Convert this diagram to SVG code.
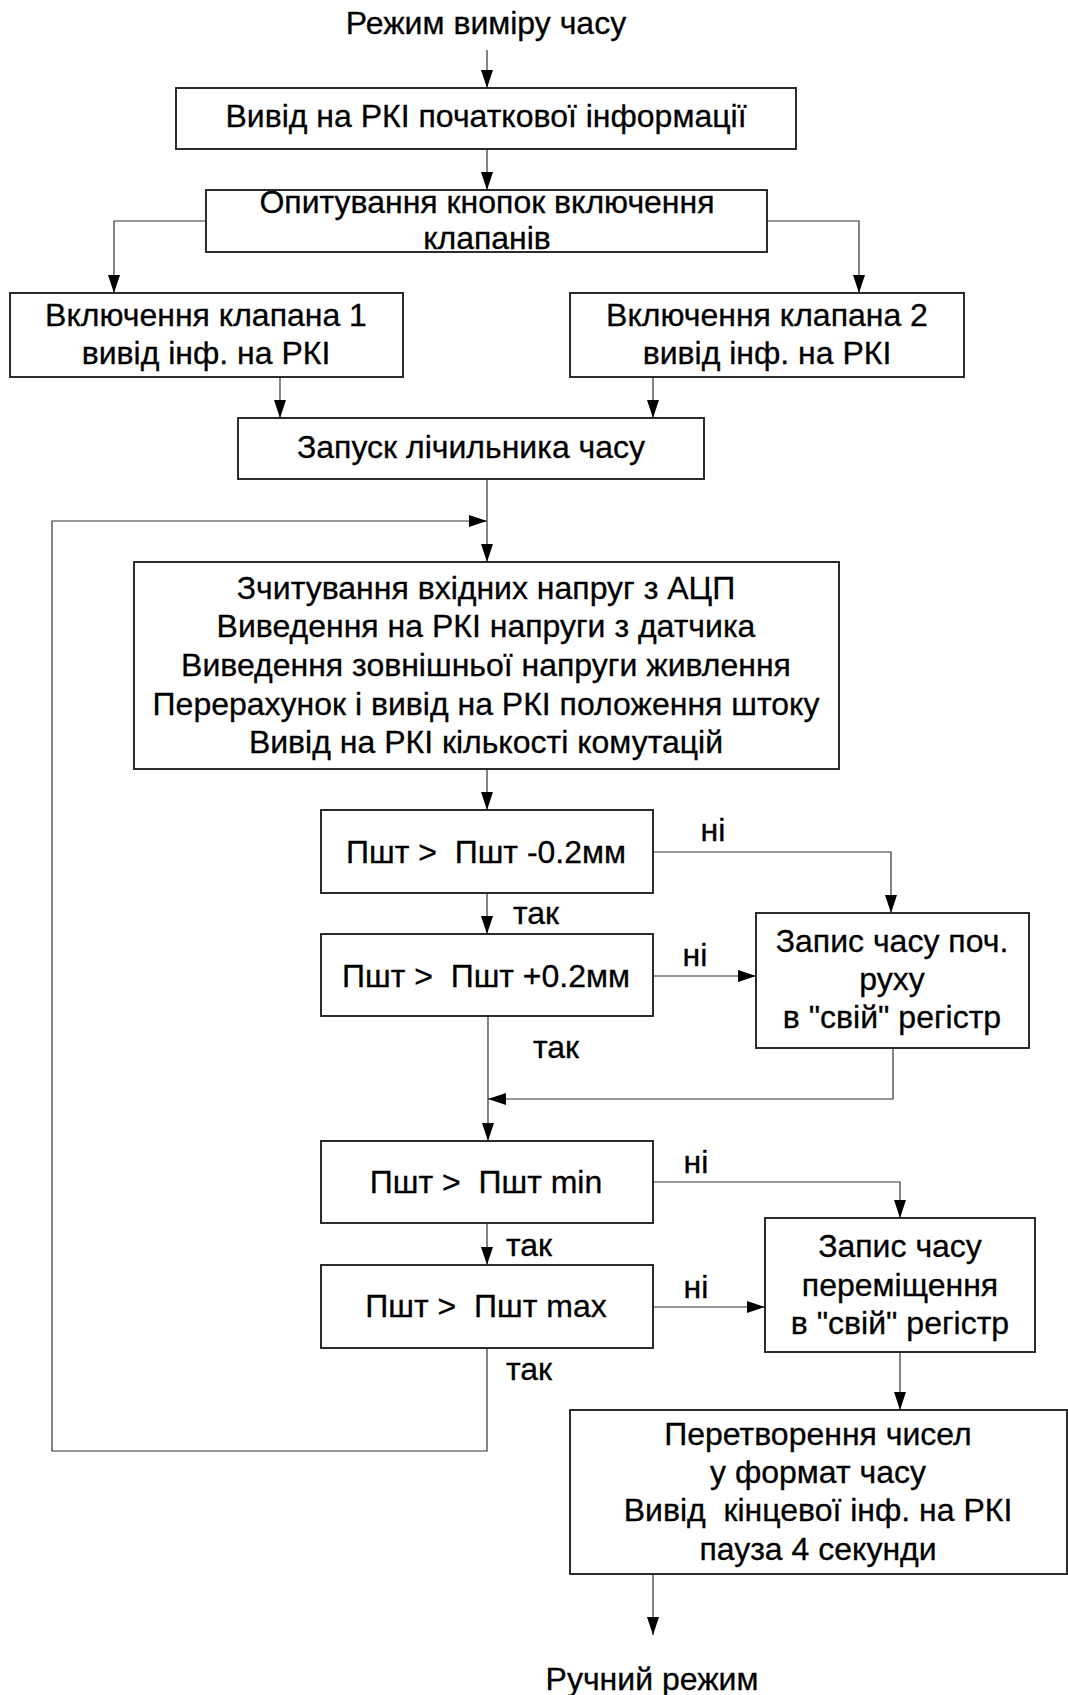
<svg xmlns="http://www.w3.org/2000/svg" width="1068" height="1695" viewBox="0 0 1068 1695">
  <style>
    .box { fill: #ffffff; stroke: #222222; stroke-width: 1.9; }
    .t { font-family: "Liberation Sans", Arial, sans-serif; font-size: 32px; fill: #000000; stroke: #000000; stroke-width: 0.3; text-anchor: middle; }
    .lbl { font-family: "Liberation Sans", Arial, sans-serif; font-size: 32px; fill: #000000; stroke: #000000; stroke-width: 0.3; text-anchor: middle; }
    .wire { fill: none; stroke: #333333; stroke-width: 1.2; }
    .arr { marker-end: url(#head); }
  </style>
  <defs>
    <marker id="head" markerUnits="userSpaceOnUse" markerWidth="18" markerHeight="12" refX="18" refY="6" orient="auto">
      <path d="M0,0 L18,6 L0,12 Z" fill="#000000"/>
    </marker>
  </defs>
  <rect width="1068" height="1695" fill="#ffffff"/>

  <!-- connectors -->
  <g id="connectors">
    <path class="wire arr" d="M487,50 V88"/>
    <path class="wire arr" d="M487,149 V190"/>
    <path class="wire arr" d="M206,221 H114 V293"/>
    <path class="wire arr" d="M767,221 H859 V293"/>
    <path class="wire arr" d="M280,377 V418"/>
    <path class="wire arr" d="M653,377 V418"/>
    <path class="wire arr" d="M487,479 V562"/>
    <path class="wire arr" d="M487,1348 V1451 H52 V521 H487"/>
    <path class="wire arr" d="M487,769 V810"/>
    <path class="wire arr" d="M653,852 H891 V913"/>
    <path class="wire arr" d="M487,893 V934"/>
    <path class="wire arr" d="M653,976 H756"/>
    <path class="wire arr" d="M488,1016 V1141"/>
    <path class="wire arr" d="M893,1048 V1099 H488"/>
    <path class="wire arr" d="M653,1182 H900 V1218"/>
    <path class="wire arr" d="M487,1223 V1265"/>
    <path class="wire arr" d="M653,1307 H765"/>
    <path class="wire arr" d="M900,1352 V1410"/>
    <path class="wire arr" d="M653,1574 V1635"/>
    <!-- branch labels -->
    <text class="lbl" x="713" y="841">ні</text>
    <text class="lbl" x="536" y="924">так</text>
    <text class="lbl" x="695" y="966">ні</text>
    <text class="lbl" x="556" y="1058">так</text>
    <text class="lbl" x="696" y="1173">ні</text>
    <text class="lbl" x="529" y="1256">так</text>
    <text class="lbl" x="696" y="1298">ні</text>
    <text class="lbl" x="529" y="1380">так</text>
  </g>

  <g id="start">
    <text class="t" x="486" y="34">Режим виміру часу</text>
  </g>

  <g id="init-display">
    <rect class="box" x="176" y="88" width="620" height="61"/>
    <text class="t" x="486" y="127">Вивід на РКІ початкової інформації</text>
  </g>

  <g id="poll-buttons">
    <rect class="box" x="206" y="190" width="561" height="62"/>
    <text class="t" x="487" y="213">Опитування кнопок включення</text>
    <text class="t" x="487" y="249">клапанів</text>
  </g>

  <g id="valve-1">
    <rect class="box" x="10" y="293" width="393" height="84"/>
    <text class="t" x="206" y="326">Включення клапана 1</text>
    <text class="t" x="206" y="364">вивід інф. на РКІ</text>
  </g>

  <g id="valve-2">
    <rect class="box" x="570" y="293" width="394" height="84"/>
    <text class="t" x="767" y="326">Включення клапана 2</text>
    <text class="t" x="767" y="364">вивід інф. на РКІ</text>
  </g>

  <g id="start-counter">
    <rect class="box" x="238" y="418" width="466" height="61"/>
    <text class="t" x="471" y="458">Запуск лічильника часу</text>
  </g>

  <g id="read-adc">
    <rect class="box" x="134" y="562" width="705" height="207"/>
    <text class="t" x="486" y="599">Зчитування вхідних напруг з АЦП</text>
    <text class="t" x="486" y="637">Виведення на РКІ напруги з датчика</text>
    <text class="t" x="486" y="676">Виведення зовнішньої напруги живлення</text>
    <text class="t" x="486" y="715">Перерахунок і вивід на РКІ положення штоку</text>
    <text class="t" x="486" y="753">Вивід на РКІ кількості комутацій</text>
  </g>

  <g id="check-minus">
    <rect class="box" x="321" y="810" width="332" height="83"/>
    <text class="t" x="486" y="863" xml:space="preserve">Пшт &gt;  Пшт -0.2мм</text>
  </g>

  <g id="check-plus">
    <rect class="box" x="321" y="934" width="332" height="82"/>
    <text class="t" x="486" y="987" xml:space="preserve">Пшт &gt;  Пшт +0.2мм</text>
  </g>

  <g id="store-start">
    <rect class="box" x="756" y="913" width="273" height="135"/>
    <text class="t" x="892" y="952">Запис часу поч.</text>
    <text class="t" x="892" y="990">руху</text>
    <text class="t" x="892" y="1028">в "свій" регістр</text>
  </g>

  <g id="check-min">
    <rect class="box" x="321" y="1141" width="332" height="82"/>
    <text class="t" x="486" y="1193" xml:space="preserve">Пшт &gt;  Пшт min</text>
  </g>

  <g id="check-max">
    <rect class="box" x="321" y="1265" width="332" height="83"/>
    <text class="t" x="486" y="1317" xml:space="preserve">Пшт &gt;  Пшт max</text>
  </g>

  <g id="store-move">
    <rect class="box" x="765" y="1218" width="270" height="134"/>
    <text class="t" x="900" y="1257">Запис часу</text>
    <text class="t" x="900" y="1296">переміщення</text>
    <text class="t" x="900" y="1334">в "свій" регістр</text>
  </g>

  <g id="convert-output">
    <rect class="box" x="570" y="1410" width="497" height="164"/>
    <text class="t" x="818" y="1445">Перетворення чисел</text>
    <text class="t" x="818" y="1483">у формат часу</text>
    <text class="t" x="818" y="1521" xml:space="preserve">Вивід  кінцевої інф. на РКІ</text>
    <text class="t" x="818" y="1560">пауза 4 секунди</text>
  </g>

  <g id="manual-mode">
    <text class="t" x="652" y="1690">Ручний режим</text>
  </g>
</svg>
